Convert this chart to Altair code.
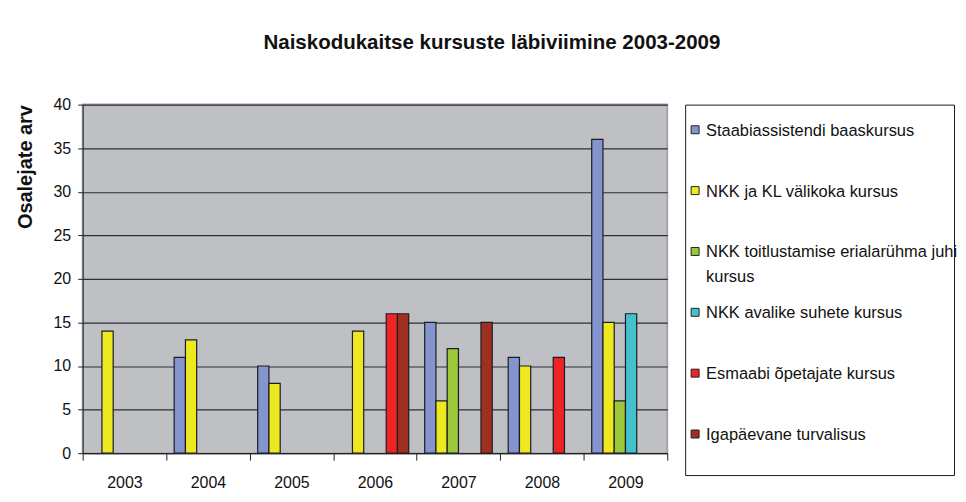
import altair as alt
import pandas as pd

years = ["2003", "2004", "2005", "2006", "2007", "2008", "2009"]
series = [
    "Staabiassistendi baaskursus",
    "NKK ja KL välikoka kursus",
    "NKK toitlustamise erialarühma juhi kursus",
    "NKK avalike suhete kursus",
    "Esmaabi õpetajate kursus",
    "Igapäevane turvalisus",
]
legend_labels = [
    "Staabiassistendi baaskursus",
    "NKK ja KL välikoka kursus",
    "NKK toitlustamise erialarühma juhi\nkursus",
    "NKK avalike suhete kursus",
    "Esmaabi õpetajate kursus",
    "Igapäevane turvalisus",
]
colors = ["#8494CC", "#EEE820", "#9DC83C", "#44C2CC", "#EE2424", "#A0301E"]

staabi = [None, 11, 10, None, 15, 11, 36]
valikoka = [14, 13, 8, 14, 6, 10, 15]
toitlustamine = [None, None, None, None, 12, None, 6]
avalikud = [None, None, None, None, None, None, 16]
esmaabi = [None, None, None, 16, None, 11, None]
igapaevane = [None, None, None, 16, 15, None, None]

all_values = [staabi, valikoka, toitlustamine, avalikud, esmaabi, igapaevane]
y_ticks = [0, 5, 10, 15, 20, 25, 30, 35, 40]

rows = []
for s, vals in zip(series, all_values):
    for yr, v in zip(years, vals):
        if v is not None:
            rows.append({"year": yr, "series": s, "value": v})
df = pd.DataFrame(rows)
leg_df = pd.DataFrame({"series": series, "label": legend_labels})

color_scale = alt.Scale(domain=series, range=colors)

plot = alt.Chart(df).mark_bar(stroke="#1c1c28", strokeWidth=1.2).encode(
    x=alt.X("year:N", scale=alt.Scale(domain=years, paddingInner=0, paddingOuter=0),
            axis=alt.Axis(title=None, tickBand="extent", labelAngle=0, labelFontSize=16,
                          labelColor="#111", tickColor="#222", tickSize=7, domainColor="#222",
                          labelPadding=14, grid=False)),
    xOffset=alt.XOffset("series:N", scale=alt.Scale(domain=series, paddingInner=0, paddingOuter=0.71)),
    y=alt.Y("value:Q", scale=alt.Scale(domain=[0, 40]),
            axis=alt.Axis(values=y_ticks, title="Osalejate arv", titleAnchor="end",
                          titleFontSize=20, titleFontWeight="bold", titleColor="#111",
                          titlePadding=18, labelFontSize=16, labelColor="#111",
                          labelPadding=7, tickSize=5, tickColor="#222", domainColor="#222",
                          gridColor="#2A2E38", gridWidth=1.2)),
    color=alt.Color("series:N", scale=color_scale, legend=None),
).properties(width=587, height=350,
             view=alt.ViewBackground(fill="#BEC0C4", stroke="#A4A6AA", strokeWidth=2))

leg_y = alt.Y("series:N", scale=alt.Scale(domain=series, padding=0.544, align=0.38), axis=None)
squares = alt.Chart(leg_df).mark_square(size=64, stroke="#222", strokeWidth=1, opacity=1).encode(
    x=alt.value(10),
    y=leg_y,
    color=alt.Color("series:N", scale=color_scale, legend=None),
)
texts = alt.Chart(leg_df).mark_text(align="left", baseline="alphabetic", dy=6, lineBreak="\n",
                                    lineHeight=25, fontSize=16.5, color="#111").encode(
    x=alt.value(21),
    y=leg_y,
    text="label:N",
)
legend = alt.layer(squares, texts).properties(
    width=270, height=372,
    view=alt.ViewBackground(fill="white", stroke="#1a1a1a", strokeWidth=1))

chart = alt.hconcat(plot, legend, spacing=15).resolve_scale(
    x="independent", y="independent"
).properties(
    title=alt.TitleParams("Naiskodukaitse kursuste läbiviimine 2003-2009", fontSize=20.6,
                          fontWeight="bold", color="#111", anchor="middle", offset=42, dx=6),
    padding={"left": 6, "top": 24, "right": 0, "bottom": 0},
).configure(font="Liberation Sans").configure_view(continuousWidth=300)

chart.save("out.html", embed_options={"renderer": "svg", "actions": False})
